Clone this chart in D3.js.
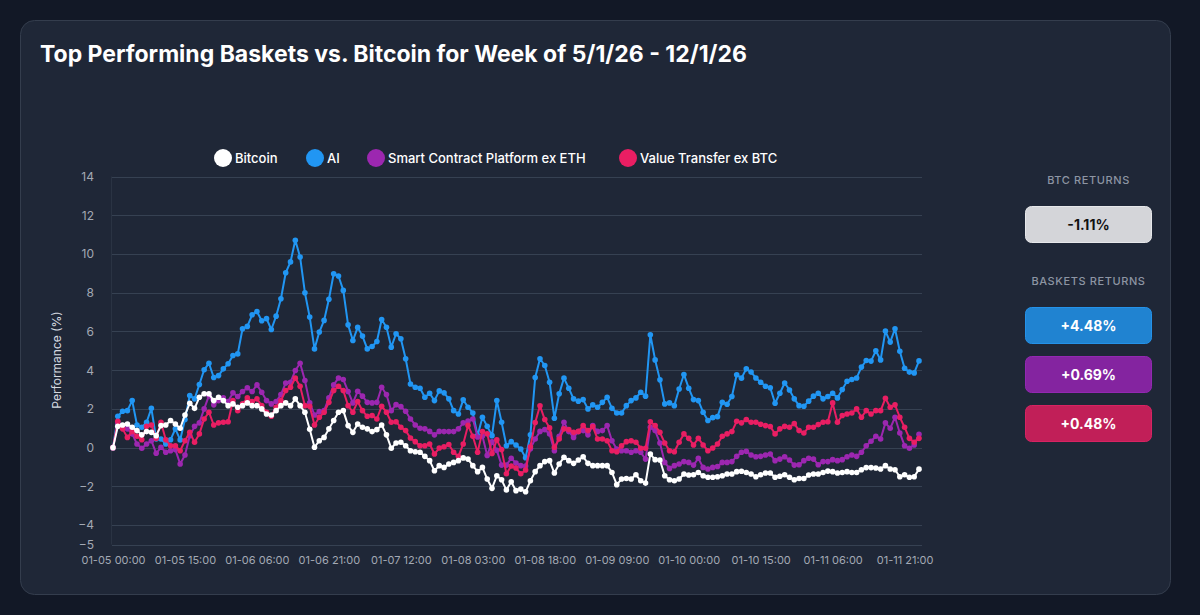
<!DOCTYPE html>
<html>
<head>
<meta charset="utf-8">
<script src="https://cdn.jsdelivr.net/npm/d3@7"></script>
<style>
  html, body { margin: 0; padding: 0; background: #121826; }
  svg { display: block; font-family: Inter, "Noto Sans", sans-serif; }
</style>
</head>
<body>
<svg id="chart" width="1200" height="615"></svg>
<script>
// ---------- DATA ----------
const startTime = "2026-01-05T00:00";
const seriesNames = ["Bitcoin", "AI", "Smart Contract Platform ex ETH", "Value Transfer ex BTC"];
const seriesColors = ["#ffffff", "#2196f3", "#9c27b0", "#e91e63"];
const boxColors = ["#d4d5d9", "#2083d1", "#8424a0", "#c11f58"];

const bitcoin = [0,1.1,1.17,1.22,1.05,0.88,0.66,0.83,0.79,0.62,1.14,1.17,1.4,1.22,1.0,1.69,2.29,2.03,2.6,2.78,2.78,2.43,2.6,2.43,2.17,2.26,2.09,2.17,2.31,2.17,2.17,2.0,1.74,1.69,1.91,2.17,2.31,2.17,2.52,2.17,1.83,0.95,0.02,0.36,0.53,0.97,1.4,1.83,1.91,1.14,0.79,1.22,1.05,0.97,0.83,0.93,1.17,0.66,-0.03,0.24,0.28,0.1,-0.16,-0.21,-0.24,-0.45,-0.67,-1.19,-0.93,-1.02,-0.84,-0.76,-0.67,-0.53,-0.59,-0.93,-1.24,-1.02,-1.62,-2.1,-1.45,-1.66,-2.19,-1.76,-2.22,-2.14,-2.28,-1.71,-1.24,-0.93,-0.72,-0.67,-1.31,-0.84,-0.5,-0.67,-0.81,-0.64,-0.47,-0.81,-0.93,-0.93,-0.93,-0.93,-1.28,-1.91,-1.62,-1.59,-1.62,-1.4,-1.71,-1.83,-0.33,-0.62,-0.64,-1.45,-1.66,-1.71,-1.62,-1.36,-1.41,-1.4,-1.28,-1.45,-1.53,-1.53,-1.5,-1.45,-1.36,-1.36,-1.24,-1.22,-1.28,-1.36,-1.5,-1.4,-1.31,-1.31,-1.53,-1.48,-1.4,-1.53,-1.66,-1.59,-1.59,-1.41,-1.36,-1.36,-1.28,-1.21,-1.24,-1.31,-1.28,-1.24,-1.28,-1.28,-1.14,-1.03,-1.03,-1.05,-1.1,-0.93,-1.1,-1.14,-1.5,-1.4,-1.53,-1.5,-1.11];

const ai = [0,1.62,1.88,1.91,2.43,1.17,1.05,1.31,2.03,0.45,0.45,0.19,0.41,0.97,0.4,1.45,2.69,2.52,3.26,4.02,4.36,3.62,3.72,4.07,4.33,4.76,4.84,6.14,6.26,6.86,7.03,6.55,6.66,6.1,6.79,7.69,9.03,9.59,10.71,9.84,8.0,6.74,5.1,5.97,6.57,7.66,8.98,8.86,8.12,6.34,5.53,6.21,5.76,5.1,5.22,5.48,6.62,6.22,5.19,5.88,5.62,4.59,3.29,3.12,3.07,2.6,2.81,2.43,2.93,2.83,2.52,1.91,1.74,2.47,2.09,1.79,0.62,1.57,1.1,0.62,2.43,1.31,0.1,0.31,0.14,-0.07,-0.52,0.66,3.62,4.59,4.24,3.38,1.52,2.78,3.59,3.07,2.52,2.4,2.48,2.0,2.21,2.09,2.34,2.6,2.03,1.79,1.79,2.17,2.43,2.57,2.86,2.66,5.83,4.53,3.5,2.26,2.31,2.17,3.03,3.78,3.07,2.48,2.43,1.83,1.4,1.55,1.6,2.34,2.24,2.64,3.76,3.59,4.07,3.9,3.6,3.38,3.17,3.09,2.29,2.81,3.34,2.98,2.52,2.17,2.14,2.4,2.66,2.81,2.52,2.64,2.81,2.57,3.0,3.43,3.52,3.6,4.16,4.5,4.47,5.0,4.53,6.02,5.45,6.14,4.98,4.1,3.9,3.86,4.48];

const smartContract = [0,1.25,1.05,0.97,0.71,0.19,-0.03,0.19,0.36,-0.29,0.02,-0.24,-0.16,-0.1,-0.84,-0.38,0.62,1.1,1.28,2.0,2.69,2.21,2.43,2.57,2.38,2.83,2.64,2.9,3.09,2.9,3.24,2.86,2.43,2.26,2.38,2.74,3.34,3.38,3.98,4.36,3.47,2.31,1.69,1.86,1.91,2.57,3.24,3.6,3.52,2.9,2.31,2.91,2.66,2.34,2.31,2.34,3.12,2.74,1.91,2.22,2.12,1.88,1.48,1.17,1.0,0.97,0.84,0.66,0.84,0.83,0.83,0.83,0.97,1.28,1.38,1.48,0.55,0.6,-0.4,0.3,-0.14,-0.9,-0.9,-0.55,-0.8,-0.93,-0.95,-0.05,0.45,0.84,0.93,0.71,-0.16,0.59,1.31,0.83,0.53,0.83,0.88,0.66,1.14,0.84,0.88,1.14,0.36,-0.07,-0.16,-0.16,-0.24,-0.16,-0.24,-0.59,1.05,0.88,0.24,-0.76,-1.07,-0.93,-0.84,-0.72,-0.76,-0.9,-0.55,-1.02,-1.1,-1.02,-0.97,-0.76,-0.76,-0.72,-0.45,-0.24,-0.19,-0.38,-0.47,-0.45,-0.38,-0.33,-0.67,-0.59,-0.47,-0.64,-0.9,-0.88,-0.67,-0.55,-0.59,-0.88,-0.72,-0.72,-0.62,-0.67,-0.62,-0.47,-0.38,-0.45,-0.24,0.1,0.33,0.59,0.45,1.28,1.0,1.57,0.76,0.1,-0.03,0.14,0.69];

const valueTransfer = [0,1.36,0.97,0.53,0.83,0.59,0.41,1.1,1.17,0.48,1.31,0.41,0.1,0.1,-0.16,0.36,0.79,0.28,0.71,1.48,1.83,1.17,1.28,1.31,1.34,2.43,1.91,2.26,2.57,2.38,2.52,2.17,1.83,1.62,2.09,2.43,2.95,3.12,3.59,3.17,2.17,2.14,1.17,1.57,1.83,2.34,2.95,3.17,2.95,2.17,1.83,2.38,1.91,1.62,1.66,1.48,2.14,1.83,1.31,1.34,1.05,0.88,0.5,0.31,0.1,0.1,0.19,-0.33,-0.02,0.05,0.16,-0.24,-0.45,0.19,1.15,0.59,-0.24,0.83,0.72,-0.3,0.4,-0.1,-1.35,-0.95,-1.05,-1.35,-1.15,0.05,1.3,2.16,1.45,1.02,0.02,0.45,0.97,0.93,0.79,0.84,1.14,0.88,1.09,0.45,0.45,0.36,-0.16,-0.21,0.1,0.31,0.36,0.28,-0.03,-0.03,1.34,1.14,0.79,0.24,-0.16,-0.21,0.28,0.71,0.48,0.14,0.48,0.14,-0.16,-0.02,0.19,0.59,0.71,0.83,1.36,1.28,1.45,1.31,1.31,1.21,1.14,1.09,0.71,0.97,1.1,1.05,1.24,0.88,0.76,1.05,1.05,1.19,1.31,1.34,2.31,1.31,1.66,1.74,1.79,2.0,1.57,1.91,1.74,1.91,1.91,2.55,2.09,2.21,1.57,1.05,0.48,0.28,0.48];

const yTicks = [-5, -4, -2, 0, 2, 4, 6, 8, 10, 12, 14];
const xLabelEvery = 15;
const title = "Top Performing Baskets vs. Bitcoin for Week of 5/1/26 - 12/1/26";
const yTitle = "Performance (%)";

// ---------- SETUP ----------
const allSeries = [bitcoin, ai, smartContract, valueTransfer];
const parse = d3.timeParse("%Y-%m-%dT%H:%M");
const t0 = parse(startTime);
const times = d3.range(bitcoin.length).map(i => d3.timeHour.offset(t0, i));
const fmt = d3.timeFormat("%m-%d %H:%M");

const svg = d3.select("#chart");

// card
svg.append("rect").attr("x", 20.5).attr("y", 20.5).attr("width", 1150).attr("height", 574)
  .attr("rx", 14).attr("fill", "#1f2737").attr("stroke", "#343d4d").attr("stroke-width", 1);

svg.append("text").attr("x", 40).attr("y", 62).text(title)
  .attr("fill", "#ffffff").attr("font-size", 23).attr("font-weight", 700);

const x = d3.scaleLinear().domain([0, bitcoin.length - 1]).range([113, 919]);
const y = d3.scaleLinear().domain([-5, 14]).range([544.5, 176.5]);

// grid
const g = svg.append("g");
g.selectAll("line.grid").data(yTicks).join("line")
  .attr("x1", 112).attr("x2", 922)
  .attr("y1", d => Math.round(y(d)) + 0.5).attr("y2", d => Math.round(y(d)) + 0.5)
  .attr("stroke", "#364152").attr("stroke-width", 1);
g.append("line").attr("x1", 111.5).attr("x2", 111.5).attr("y1", y(14)).attr("y2", y(-5))
  .attr("stroke", "#2a3343");

// y axis
const yAxis = d3.axisLeft(y).tickValues(yTicks).tickSize(0).tickPadding(0);
const ya = svg.append("g").attr("transform", "translate(94,0)").call(yAxis);
ya.select(".domain").remove();
ya.selectAll("text").attr("fill", "#a3a9b4").attr("font-size", 12).attr("font-family", "Inter, sans-serif");

// x axis
const xTickIdx = d3.range(0, bitcoin.length, xLabelEvery);
const xAxis = d3.axisBottom(x).tickValues(xTickIdx).tickFormat(i => fmt(times[i])).tickSize(0).tickPadding(0);
const xa = svg.append("g").attr("transform", "translate(0,556)").call(xAxis);
xa.select(".domain").remove();
xa.selectAll("text").attr("fill", "#a3a9b4").attr("font-size", 11).attr("font-family", "Inter, sans-serif");

svg.append("text").attr("transform", "translate(61,360) rotate(-90)")
  .attr("text-anchor", "middle").attr("fill", "#d5d9e0").attr("font-size", 12).text(yTitle);

// series
const line = d3.line().x((d, i) => x(i)).y(d => y(d));
const drawOrder = [1, 2, 3, 0];
drawOrder.forEach(si => {
  const data = allSeries[si];
  const sg = svg.append("g");
  sg.append("path").datum(data).attr("d", line).attr("fill", "none")
    .attr("stroke", seriesColors[si]).attr("stroke-width", 2).attr("stroke-linejoin", "round");
  sg.selectAll("circle").data(data).join("circle")
    .attr("cx", (d, i) => x(i)).attr("cy", d => y(d)).attr("r", 2.8)
    .attr("fill", seriesColors[si]);
});

// legend
const legendX = [223, 315, 376, 628];
const lg = svg.append("g");
seriesNames.forEach((n, i) => {
  lg.append("circle").attr("cx", legendX[i]).attr("cy", 158).attr("r", 9).attr("fill", seriesColors[i]);
  lg.append("text").attr("x", legendX[i] + 12).attr("y", 163).text(n)
    .attr("fill", "#ffffff").attr("font-size", 13).attr("font-weight", 500);
});

// right panel
const cx = 1088.5;
svg.append("text").attr("x", cx).attr("y", 184).attr("text-anchor", "middle").text("BTC RETURNS")
  .attr("fill", "#8d95a3").attr("font-size", 11).attr("font-weight", 500).attr("letter-spacing", 0.6);
svg.append("text").attr("x", cx).attr("y", 285).attr("text-anchor", "middle").text("BASKETS RETURNS")
  .attr("fill", "#8d95a3").attr("font-size", 11).attr("font-weight", 500).attr("letter-spacing", 0.6);

const boxY = [206, 307, 356, 405];
const fmtPct = v => (v > 0 ? "+" : "") + v.toFixed(2) + "%";
allSeries.forEach((s, i) => {
  const v = s[s.length - 1];
  svg.append("rect").attr("x", 1025.5).attr("y", boxY[i] + 0.5).attr("width", 126).attr("height", 36)
    .attr("rx", 6).attr("fill", boxColors[i])
    .attr("stroke", i === 0 ? "#e6e7ea" : d3.color(boxColors[i]).brighter(0.3)).attr("stroke-width", 1);
  svg.append("text").attr("x", cx).attr("y", boxY[i] + 23.5).attr("text-anchor", "middle")
    .text(fmtPct(v)).attr("fill", i === 0 ? "#111111" : "#ffffff")
    .attr("font-size", 14).attr("font-weight", 700);
});
</script>
</body>
</html>
